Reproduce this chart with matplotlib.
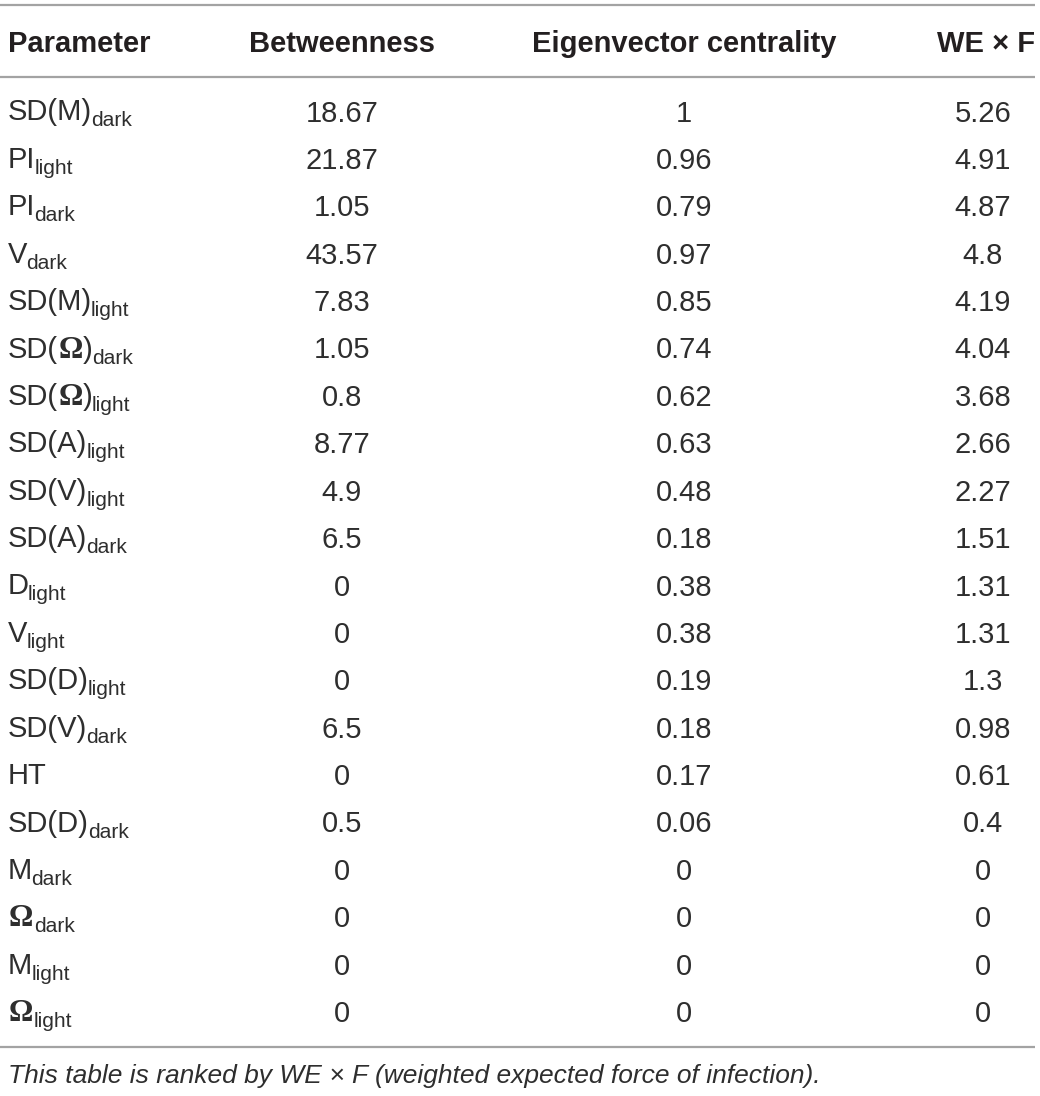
import matplotlib
matplotlib.use("Agg")
import matplotlib.pyplot as plt

# table data
headers = ["Parameter", "Betweenness", "Eigenvector centrality", "WE \u00d7 F"]
param_base = ["SD(M)", "PI", "PI", "V", "SD(M)", "SD(\u03a9)", "SD(\u03a9)", "SD(A)",
              "SD(V)", "SD(A)", "D", "V", "SD(D)", "SD(V)", "HT", "SD(D)",
              "M", "\u03a9", "M", "\u03a9"]
param_sub = ["dark", "light", "dark", "dark", "light", "dark", "light", "light",
             "light", "dark", "light", "light", "light", "dark", "", "dark",
             "dark", "dark", "light", "light"]
betweenness = [18.67, 21.87, 1.05, 43.57, 7.83, 1.05, 0.8, 8.77, 4.9, 6.5,
               0, 0, 0, 6.5, 0, 0.5, 0, 0, 0, 0]
eigen = [1, 0.96, 0.79, 0.97, 0.85, 0.74, 0.62, 0.63, 0.48, 0.18,
         0.38, 0.38, 0.19, 0.18, 0.17, 0.06, 0, 0, 0, 0]
wexf = [5.26, 4.91, 4.87, 4.8, 4.19, 4.04, 3.68, 2.66, 2.27, 1.51,
        1.31, 1.31, 1.3, 0.98, 0.61, 0.4, 0, 0, 0, 0]
footnote = "This table is ranked by WE \u00d7 F (weighted expected force of infection)."

W, H = 1040, 1096
fig = plt.figure(figsize=(W / 100, H / 100), dpi=100)
ax = fig.add_axes([0, 0, 1, 1])
ax.set_xlim(0, W)
ax.set_ylim(H, 0)
ax.axis("off")

hdr_c = "#231f20"
txt = "#2e2e2e"
line_c = "#a3a3a3"
fs = 21
sans = "Liberation Sans"
serif = "Liberation Serif"

for yl in [5, 77, 1047]:
    ax.plot([0, 1035], [yl, yl], color=line_c, lw=1.6, solid_capstyle="butt")

col_x = [8, 342, 684, 983]
hy = 52
ax.text(col_x[0], hy, headers[0], ha="left", va="baseline", fontsize=fs,
        fontweight="bold", family=sans, color=hdr_c)
for i in range(1, 3):
    ax.text(col_x[i], hy, headers[i], ha="center", va="baseline", fontsize=fs,
            fontweight="bold", family=sans, color=hdr_c)
ax.text(1035, hy, headers[3], ha="right", va="baseline", fontsize=fs,
        fontweight="bold", family=sans, color=hdr_c)

fig.canvas.draw()
renderer = fig.canvas.get_renderer()


def run(x, y, s, **kw):
    t = ax.text(x, y, s, ha="left", va="baseline", color=txt, **kw)
    bb = t.get_window_extent(renderer)
    return x + bb.width


row0 = 120.5
dy = 47.4
for i in range(len(param_base)):
    yb = row0 + i * dy
    x = col_x[0]
    parts = param_base[i].split("\u03a9")
    for k, p in enumerate(parts):
        if p:
            x = run(x, yb, p, fontsize=fs, family=sans) - 1
        if k < len(parts) - 1:
            x = run(x + 1, yb, "\u03a9", fontsize=fs + 1, family=serif, fontweight="bold") + 0.5
    if param_sub[i]:
        run(x, yb + 6, param_sub[i], fontsize=fs * 0.72, family=sans)
    for j, vals in enumerate([betweenness, eigen, wexf]):
        ax.text(col_x[j + 1], yb - 10, f"{vals[i]:g}", ha="center", va="center_baseline",
                fontsize=fs, family=sans, color=txt)

ax.text(8, 1083, footnote, ha="left", va="baseline", fontsize=19,
        family=sans, style="italic", color=txt)

fig.savefig("out.png", dpi=100)
